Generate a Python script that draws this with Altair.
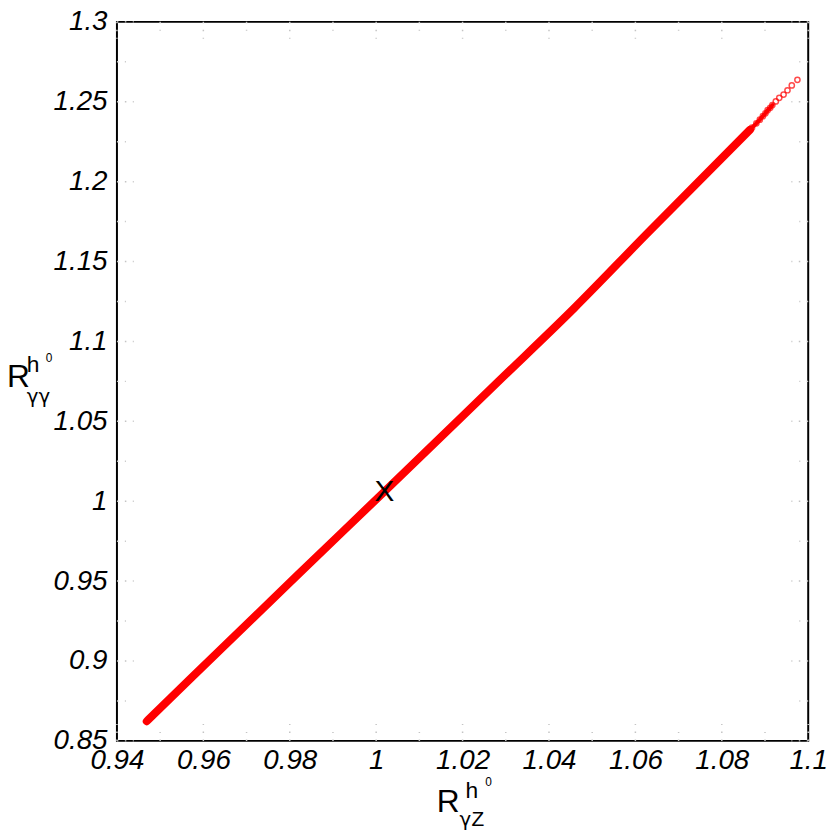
import altair as alt
import pandas as pd

# ---- data ----
x_ticks = [0.94, 0.96, 0.98, 1.0, 1.02, 1.04, 1.06, 1.08, 1.1]
x_minor = [0.95, 0.97, 0.99, 1.01, 1.03, 1.05, 1.07, 1.09]
y_ticks = [0.85, 0.9, 0.95, 1.0, 1.05, 1.1, 1.15, 1.2, 1.25, 1.3]
y_minor = [0.875, 0.925, 0.975, 1.025, 1.075, 1.125, 1.175, 1.225, 1.275]

# dense part of the scan (points overlap into a band)
dense_x = [0.9469, 0.9572, 0.9813, 1.0019, 1.0283, 1.0459, 1.0626, 1.0865]
dense_y = [0.8623, 0.8894, 0.9525, 1.0060, 1.0750, 1.1210, 1.1672, 1.2324]

# sparse tail of the scan (individual open circles)
tail_x = [1.0870, 1.0880, 1.0888, 1.0895, 1.0901, 1.0906, 1.0912, 1.0917,
          1.0925, 1.0933, 1.0943, 1.0952, 1.0962, 1.0975]
tail_y = [1.2338, 1.2365, 1.2388, 1.2410, 1.2428, 1.2447, 1.2462, 1.2479,
          1.2502, 1.2525, 1.2545, 1.2572, 1.2602, 1.2637]

# SM point marker
sm_x = [1.0019]
sm_y = [1.006]

W, H = 698, 726
FONT = "Liberation Sans"
GFONT = "DejaVu Sans"

xs = alt.Scale(domain=[0.94, 1.1], nice=False, zero=False)
ys = alt.Scale(domain=[0.85, 1.3], nice=False, zero=False)

x_axis = alt.Axis(values=x_ticks, format="~g", labelFont=FONT, labelFontStyle="italic",
                  labelFontSize=28, labelColor="black", ticks=False, domain=False,
                  grid=False, labelPadding=6, labelFlush=False, labelOverlap=False,
                  title=None)
y_axis = alt.Axis(values=y_ticks, format="~g", labelFont=FONT, labelFontStyle="italic",
                  labelFontSize=28, labelColor="black", ticks=False, domain=False,
                  grid=False, labelPadding=10, labelFlush=False, labelOverlap=False,
                  title=None)

df_dense = pd.DataFrame({"x": dense_x, "y": dense_y})
df_tail = pd.DataFrame({"x": tail_x, "y": tail_y})
df_sm = pd.DataFrame({"x": sm_x, "y": sm_y})

dense = alt.Chart(df_dense).mark_line(color="#ff0000", strokeWidth=8, strokeCap="round",
                                      strokeJoin="round", interpolate="monotone").encode(
    x=alt.X("x:Q", scale=xs, axis=x_axis),
    y=alt.Y("y:Q", scale=ys, axis=y_axis),
)
tail_line = alt.Chart(df_tail.iloc[:8]).mark_line(color="#ff0000", strokeWidth=4, strokeCap="round").encode(
    x=alt.X("x:Q", scale=xs), y=alt.Y("y:Q", scale=ys))
tail = alt.Chart(df_tail).mark_point(shape="circle", filled=False, color="#ff0000",
                                     size=28, strokeWidth=1.5).encode(
    x=alt.X("x:Q", scale=xs), y=alt.Y("y:Q", scale=ys))

sm = alt.Chart(df_sm).mark_text(text="X", font=FONT, fontSize=30, color="black",
                                align="center", baseline="middle").encode(
    x=alt.X("x:Q", scale=xs), y=alt.Y("y:Q", scale=ys))

# inward dotted ticks on all four sides
tick_style = dict(color="#c4c4c4", strokeWidth=1.5, strokeDash=[1.5, 6.5])
dfx = pd.DataFrame({"v": x_ticks})
dfxm = pd.DataFrame({"v": x_minor})
dfy = pd.DataFrame({"v": y_ticks})
dfym = pd.DataFrame({"v": y_minor})

def xrules(df, L):
    b = alt.Chart(df).mark_rule(**tick_style).encode(
        x=alt.X("v:Q", scale=xs), y=alt.value(H), y2=alt.value(H - L))
    t = alt.Chart(df).mark_rule(**tick_style).encode(
        x=alt.X("v:Q", scale=xs), y=alt.value(0), y2=alt.value(L))
    return b + t

def yrules(df, L):
    l = alt.Chart(df).mark_rule(**tick_style).encode(
        y=alt.Y("v:Q", scale=ys), x=alt.value(0), x2=alt.value(L))
    r = alt.Chart(df).mark_rule(**tick_style).encode(
        y=alt.Y("v:Q", scale=ys), x=alt.value(W), x2=alt.value(W - L))
    return l + r

ticks = xrules(dfx, 17) + xrules(dfxm, 9) + yrules(dfy, 17) + yrules(dfym, 9)

one = pd.DataFrame({"a": [0]})

def txt(s, x, y, size, font=FONT):
    return alt.Chart(one).mark_text(text=s, font=font, fontSize=size, color="black",
                                    align="left", baseline="alphabetic").encode(
        x=alt.value(x), y=alt.value(y))

# axis titles R_{γγ}^{h0} (y) and R_{γZ}^{h0} (x); plot origin at page (118, 18)
titles = (
    txt("R", -111, 369, 32) + txt("h", -91, 354, 23) + txt("0", -72, 343, 12)
    + txt("γγ", -91, 385, 20, GFONT)
    + txt("R", 323, 798, 32) + txt("h", 352, 784, 23) + txt("0", 372, 772, 12)
    + txt("γ", 346, 812, 20, GFONT) + txt("Z", 358, 812, 21)
)

chart = alt.layer(ticks, dense, tail_line, tail, sm, titles).properties(
    width=W, height=H,
    autosize=alt.AutoSizeParams(type="none"),
    padding={"left": 110, "top": 10, "right": 22, "bottom": 88},
    background="white",
).configure_view(stroke="black", strokeWidth=2)

chart.save("out.html", embed_options={"renderer": "svg", "actions": False})
